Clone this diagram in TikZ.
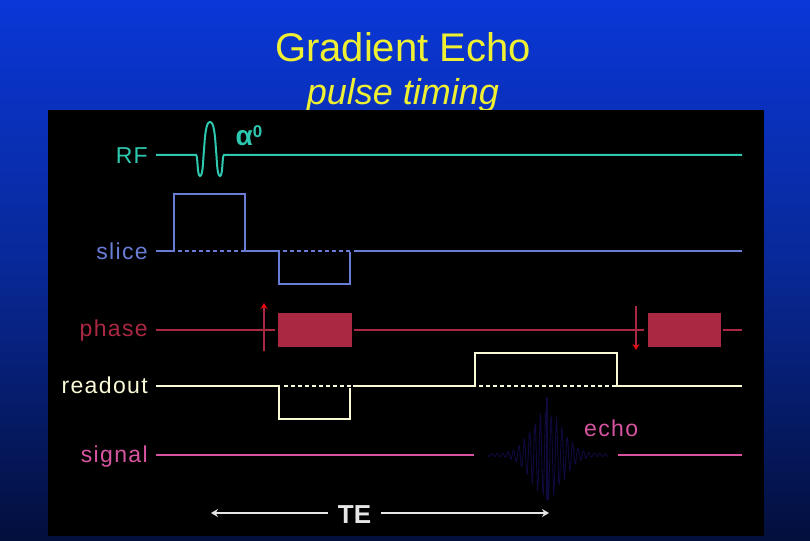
\documentclass[tikz,border=0pt]{standalone}
\usepackage{fontspec}
\setmainfont{Liberation Sans}
\newfontfamily\labfont[LetterSpace=6]{Liberation Sans}
\usetikzlibrary{arrows.meta}
\definecolor{bgtop}{RGB}{10,55,215}
\definecolor{bgmid}{RGB}{8,40,150}
\definecolor{bgbot}{RGB}{3,15,60}
\definecolor{ttl}{RGB}{240,240,50}
\definecolor{rfc}{RGB}{45,200,175}
\definecolor{slc}{RGB}{105,125,215}
\definecolor{phc}{RGB}{170,40,65}
\definecolor{roc}{RGB}{250,250,215}
\definecolor{sgc}{RGB}{215,85,160}
\definecolor{ech}{RGB}{14,10,62}
\definecolor{tec}{RGB}{230,230,230}
\tikzset{
  x=1pt,y=-1pt,
  wave/.style={line width=2pt,line join=miter},
  dash line/.style={line width=2pt,dash pattern=on 4pt off 3pt},
  lab/.style={inner sep=0pt,anchor=base east,font=\labfont\fontsize{23}{23}\selectfont},
  pe block/.style={fill=phc,draw=none}
}
\begin{document}
\begin{tikzpicture}
\useasboundingbox (0,0) rectangle (810,540);
\shade[top color=bgtop,bottom color=bgmid,draw=none] (0,0) rectangle (810,270);
\shade[top color=bgmid,bottom color=bgbot,draw=none] (0,270) rectangle (810,540);
\node[inner sep=0pt,text=ttl,font=\fontsize{40}{40}\selectfont] (title) at (403,47) {Gradient Echo};
\node[inner sep=0pt,text=ttl,font=\fontsize{36}{36}\selectfont\itshape] (sub) at (403,95) {pulse timing};
\fill[black] (48,110) rectangle (764,536);
% labels
\node[lab,text=rfc] (lrf) at (148,164) {RF};
\node[lab,text=slc] (lsl) at (148,259) {slice};
\node[lab,text=phc] (lph) at (148,336) {phase};
\node[lab,text=roc] (lro) at (148,393) {readout};
\node[lab,text=sgc] (lsg) at (148,462) {signal};
\node[lab,text=sgc,anchor=base west] (echo) at (584,436) {echo};
\node[inner sep=0pt,text=rfc,font=\fontsize{28}{28}\selectfont\bfseries] (alpha) at (249,136) {α\raisebox{8pt}{\fontsize{17}{17}\selectfont 0}};
% RF
\draw[wave,rfc] (156,155) -- (196,155)
  .. controls (198,155) and (197,176) .. (200,176)
  .. controls (203,176) and (203,160) .. (204,150)
  .. controls (205,135) and (206,122) .. (210,122)
  .. controls (214,122) and (215,135) .. (216,150)
  .. controls (217,160) and (217,176) .. (220,176)
  .. controls (223,176) and (222,155) .. (224,155) -- (742,155);
% slice
\draw[wave,slc] (156,251) -- (174,251) -- (174,194) -- (245,194) -- (245,251) -- (279,251) -- (279,284) -- (350,284) -- (350,252);
\draw[dash line,slc] (178,251) -- (245,251);
\draw[dash line,slc] (283,251) -- (351,251);
\draw[wave,slc] (354,251) -- (742,251);
% phase
\draw[wave,phc] (156,330) -- (275,330);
\draw[wave,phc] (354,330) -- (644,330);
\draw[wave,phc] (723,330) -- (742,330);
\node[pe block,minimum width=74pt,minimum height=34pt,inner sep=0pt] (pe1) at (315,330) {};
\node[pe block,minimum width=73pt,minimum height=34pt,inner sep=0pt] (pe2) at (684.5,330) {};
\coordinate (a1) at (264,351); \coordinate (a1t) at (264,303);
\coordinate (a2) at (636,306); \coordinate (a2t) at (636,350);
\draw[line width=2pt,phc,-{Stealth[length=6pt,width=7pt,color=red!80!phc]}] (a1) -- (a1t);
\draw[line width=2pt,phc,-{Stealth[length=6pt,width=7pt,color=red!80!phc]}] (a2) -- (a2t);
% readout
\draw[wave,roc] (156,386) -- (279,386) -- (279,419) -- (350,419) -- (350,388);
\draw[dash line,roc] (284,386) -- (352,386);
\draw[wave,roc] (353,386) -- (475,386) -- (475,353) -- (617,353) -- (617,386) -- (742,386);
\draw[dash line,roc] (479,386) -- (616,386);
% signal
\draw[wave,sgc] (156,455) -- (474,455);
\draw[wave,sgc] (618,455) -- (742,455);
% echo
\begin{scope}[shift={(488,455)}]
\draw[ech,line width=0.9pt,line join=round] plot[domain=0:120,samples=120]
  (\x,{(44*exp(-((\x-59)/22)^2)+1.5)*sin(\x*67)});
\end{scope}
\draw[ech,line width=1.4pt] (547,397) -- (547,500);
% TE
\node[inner sep=0pt,text=tec,font=\fontsize{26}{26}\selectfont\bfseries] (te) at (354.5,515) {TE};
\coordinate (tel) at (211,513); \coordinate (ter) at (549,513);
\draw[line width=2.4pt,tec,-{Stealth[length=7pt,width=8pt]}] (328,513) -- (tel);
\draw[line width=2.4pt,tec,-{Stealth[length=7pt,width=8pt]}] (381,513) -- (ter);
\end{tikzpicture}
\end{document}
